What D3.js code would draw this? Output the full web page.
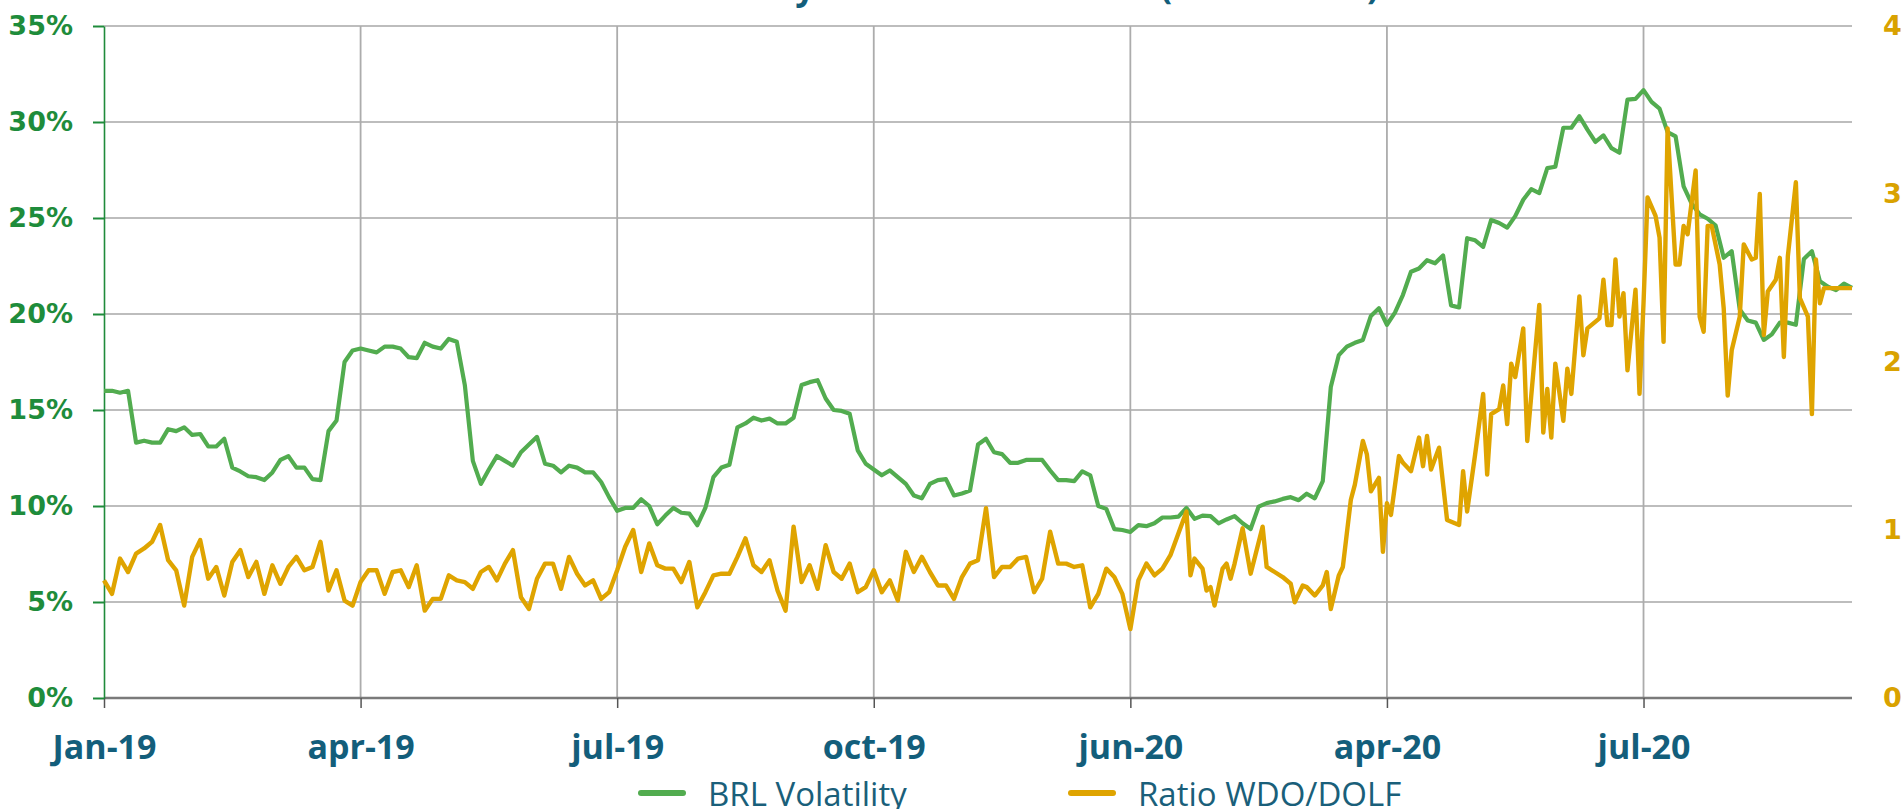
<!DOCTYPE html>
<html>
<head>
<meta charset="utf-8">
<script src="https://cdn.jsdelivr.net/npm/d3@7"></script>
<style>
  html, body { margin: 0; padding: 0; background: #fff; overflow: hidden; }
  svg { display: block; }
</style>
</head>
<body>
<svg id="chart" width="1901" height="809"></svg>
<script>
// trading-day index, one unit ~ one business day from Jan-19
const tickDays   = [0, 64, 128, 192, 256, 320, 384];
const tickLabels = ["Jan-19", "apr-19", "jul-19", "oct-19", "jun-20", "apr-20", "jul-20"];
const volTicks   = [0, 5, 10, 15, 20, 25, 30, 35];
const ratioTicks = [0, 1, 2, 3, 4];

// BRL Volatility (%), every second day
const volDays = d3.range(0, 437, 2);
const volValues = [
  16.0, 16.0, 15.9, 16.0, 13.3, 13.4, 13.3, 13.3, 14.0, 13.9,
  14.1, 13.7, 13.75, 13.1, 13.1, 13.5, 12.0, 11.8, 11.55, 11.5,
  11.35, 11.75, 12.4, 12.6, 12.0, 12.0, 11.4, 11.35, 13.9, 14.45,
  17.5, 18.1, 18.2, 18.1, 18.0, 18.3, 18.3, 18.2, 17.75, 17.7,
  18.5, 18.3, 18.2, 18.7, 18.55, 16.3, 12.35, 11.15, 11.9, 12.6,
  12.35, 12.1, 12.8, 13.2, 13.6, 12.2, 12.1, 11.75, 12.1, 12.0,
  11.75, 11.75, 11.25, 10.45, 9.75, 9.9, 9.9, 10.35, 10.0, 9.05,
  9.5, 9.9, 9.65, 9.6, 9.0, 9.9, 11.5, 12.0, 12.15, 14.1,
  14.3, 14.6, 14.45, 14.55, 14.3, 14.3, 14.6, 16.3, 16.45, 16.55,
  15.6, 15.0, 14.95, 14.8, 12.9, 12.2, 11.9, 11.6, 11.85, 11.5,
  11.15, 10.55, 10.4, 11.15, 11.35, 11.4, 10.55, 10.65, 10.8, 13.2,
  13.5, 12.8, 12.7, 12.25, 12.25, 12.4, 12.4, 12.4, 11.85, 11.35,
  11.35, 11.3, 11.8, 11.6, 10.0, 9.85, 8.8, 8.75, 8.65, 9.0,
  8.95, 9.1, 9.4, 9.4, 9.45, 9.9, 9.33, 9.5, 9.47, 9.1,
  9.3, 9.47, 9.1, 8.8, 9.97, 10.15, 10.24, 10.37, 10.46, 10.3,
  10.64, 10.4, 11.3, 16.2, 17.86, 18.3, 18.5, 18.65, 19.9, 20.3,
  19.44, 20.07, 21.0, 22.2, 22.37, 22.8, 22.64, 23.05, 20.45, 20.34,
  23.95, 23.84, 23.5, 24.9, 24.74, 24.5, 25.1, 25.95, 26.5, 26.3,
  27.6, 27.67, 29.7, 29.7, 30.3, 29.6, 28.96, 29.3, 28.64, 28.4,
  31.17, 31.2, 31.66, 31.05, 30.7, 29.47, 29.25, 26.65, 25.75, 25.19,
  24.96, 24.6, 22.93, 23.27, 20.23, 19.66, 19.55, 18.65, 18.94, 19.55,
  19.55, 19.44, 22.87, 23.27, 21.7, 21.42, 21.24, 21.58, 21.36
];

// Ratio WDO/DOLF, every second day up to day 270, then daily where it gets noisy
const ratioDaysEarly = d3.range(0, 271, 2);
const ratioDaysLate = [
  271, 272, 274, 275, 276, 277, 279, 280, 281, 282, 284, 286, 289, 290, 292,
  294, 296, 297, 299, 300, 302, 304, 305, 306, 308, 309, 310, 311, 312, 314,
  315, 316, 318, 319, 320, 321, 323, 324, 326, 327, 328, 329, 330, 331, 333,
  335, 338, 339, 340, 342, 344, 345, 346, 348, 349, 350, 351, 352, 354, 355,
  358, 359, 360, 361, 362, 364, 365, 366, 368, 369, 370, 373, 374, 375, 376,
  377, 378, 379, 380, 382, 383, 384, 385, 387, 388, 389, 390, 392, 393, 394,
  395, 397, 398, 399, 400, 401, 403, 404, 405, 406, 408, 409, 411, 412, 413,
  414, 415, 417, 418, 419, 420, 422, 423, 425, 426, 427, 428, 429, 436
];
const ratioDays = ratioDaysEarly.concat(ratioDaysLate);
const ratioValues = [
  0.70, 0.62, 0.83, 0.75, 0.86, 0.89, 0.93, 1.03, 0.82, 0.76,
  0.55, 0.84, 0.94, 0.71, 0.78, 0.61, 0.81, 0.88, 0.72, 0.81,
  0.62, 0.79, 0.68, 0.78, 0.84, 0.76, 0.78, 0.93, 0.64, 0.76,
  0.58, 0.55, 0.69, 0.76, 0.76, 0.62, 0.75, 0.76, 0.66, 0.79,
  0.52, 0.59, 0.59, 0.73, 0.70, 0.69, 0.65, 0.75, 0.78, 0.70,
  0.80, 0.88, 0.60, 0.53, 0.71, 0.80, 0.80, 0.65, 0.84, 0.74,
  0.67, 0.70, 0.59, 0.63, 0.76, 0.90, 1.00, 0.75, 0.92, 0.79,
  0.77, 0.77, 0.69, 0.81, 0.54, 0.63, 0.73, 0.74, 0.74, 0.84,
  0.95, 0.79, 0.75, 0.82, 0.64, 0.52, 1.02, 0.69, 0.79, 0.65,
  0.91, 0.75, 0.71, 0.80, 0.63, 0.66, 0.76, 0.63, 0.70, 0.58,
  0.87, 0.75, 0.84, 0.75, 0.67, 0.67, 0.59, 0.72, 0.80, 0.82,
  1.13, 0.72, 0.78, 0.78, 0.83, 0.84, 0.63, 0.71, 0.99, 0.80,
  0.80, 0.78, 0.79, 0.54, 0.62, 0.77, 0.72, 0.62, 0.41, 0.70,
  0.80, 0.73, 0.77, 0.85, 0.98, 1.11,
  // late part
  0.73, 0.83, 0.77, 0.64, 0.66, 0.55, 0.77, 0.80, 0.71, 0.80, 1.01, 0.74, 1.02, 0.78, 0.75,
  0.72, 0.68, 0.57, 0.67, 0.66, 0.61, 0.67, 0.75, 0.53, 0.73, 0.78, 0.98, 1.18, 1.27, 1.53,
  1.45, 1.23, 1.31, 0.87, 1.16, 1.09, 1.44, 1.40, 1.35, 1.45, 1.55, 1.38, 1.56, 1.36, 1.49,
  1.06, 1.03, 1.35, 1.11, 1.45, 1.81, 1.33, 1.69, 1.72, 1.86, 1.63, 1.99, 1.91, 2.20, 1.53,
  2.34, 1.58, 1.84, 1.55, 1.99, 1.65, 1.96, 1.81, 2.39, 2.04, 2.20, 2.26, 2.49, 2.22, 2.22,
  2.61, 2.27, 2.41, 1.95, 2.43, 1.81, 2.35, 2.98, 2.87, 2.74, 2.12, 3.39, 2.58, 2.58, 2.81,
  2.76, 3.14, 2.27, 2.18, 2.81, 2.81, 2.58, 2.32, 1.80, 2.07, 2.27, 2.70, 2.61, 2.62, 3.00,
  2.16, 2.42, 2.49, 2.62, 2.03, 2.63, 3.07, 2.38, 2.27, 1.69, 2.61, 2.35, 2.44, 2.44
];

const GREEN = "#52ac4f", GOLD = "#dfa400";
const TEAL = "#135e7b";

const svg = d3.select("#chart");
const plotL = 104, plotR = 1852, plotT = 26, plotB = 698;

const x  = d3.scaleLinear().domain([0, 436]).range([plotL, plotR]);
const yL = d3.scaleLinear().domain([0, 35]).range([plotB, plotT]);
const yR = d3.scaleLinear().domain([0, 4]).range([plotB, plotT]);

// title, mostly above the visible area
svg.append("text")
  .attr("x", 581).attr("y", -1)
  .attr("font-family", "Open Sans").attr("font-weight", 700).attr("font-size", 35)
  .attr("fill", TEAL)
  .text("BRL Volatility vs. Contracts Ratio (WDO/DOLF)");

// grid
svg.append("g")
  .selectAll("line")
  .data(volTicks.slice(1))
  .join("line")
  .attr("x1", plotL).attr("x2", plotR)
  .attr("y1", d => yL(d)).attr("y2", d => yL(d))
  .attr("stroke", "#bdbdbd").attr("stroke-width", 2);

svg.append("g")
  .selectAll("line")
  .data(tickDays.slice(1))
  .join("line")
  .attr("x1", d => x(d)).attr("x2", d => x(d))
  .attr("y1", plotT).attr("y2", plotB)
  .attr("stroke", "#acacac").attr("stroke-width", 1.8);

// x axis
const xAxis = svg.append("g")
  .attr("transform", `translate(0,${plotB})`)
  .call(d3.axisBottom(x).tickValues(tickDays).tickSize(10).tickSizeOuter(0)
    .tickFormat((d, i) => tickLabels[i]));
xAxis.select(".domain").attr("stroke", "#7a7a7a").attr("stroke-width", 2.5)
  .attr("d", `M${plotL},0H${plotR}`);
xAxis.selectAll(".tick line").attr("stroke", "#555").attr("stroke-width", 1.5);
xAxis.selectAll(".tick text")
  .attr("y", 61).attr("dy", 0)
  .attr("font-family", "Open Sans").attr("font-weight", 700).attr("font-size", 34)
  .attr("fill", TEAL);

// left axis
const yAxisL = svg.append("g")
  .attr("transform", `translate(${plotL},0)`)
  .call(d3.axisLeft(yL).tickValues(volTicks).tickSize(11).tickSizeOuter(0)
    .tickFormat(d => d + "%"));
yAxisL.select(".domain").attr("stroke", "#1f8b3b").attr("stroke-width", 1.6);
yAxisL.selectAll(".tick line").attr("stroke", "#1f8b3b").attr("stroke-width", 2);
yAxisL.selectAll(".tick text")
  .attr("x", -31)
  .attr("font-family", "DejaVu Sans").attr("font-weight", 700).attr("font-size", 27)
  .attr("fill", "#1e8c3b");

// right axis, labels only
const yAxisR = svg.append("g")
  .attr("transform", `translate(${plotR},0)`)
  .call(d3.axisRight(yR).tickValues(ratioTicks).tickSize(0).tickSizeOuter(0)
    .tickFormat(d3.format("d")));
yAxisR.select(".domain").remove();
yAxisR.selectAll(".tick text")
  .attr("x", 31)
  .attr("font-family", "DejaVu Sans").attr("font-weight", 700).attr("font-size", 27)
  .attr("fill", "#d9a200");

// series
const volLine = d3.line()
  .x((d, i) => x(volDays[i]))
  .y(d => yL(d));

const ratioLine = d3.line()
  .x((d, i) => x(ratioDays[i]))
  .y(d => yR(d));

svg.append("path")
  .datum(volValues)
  .attr("d", volLine)
  .attr("fill", "none")
  .attr("stroke", GREEN)
  .attr("stroke-width", 4.2)
  .attr("stroke-linejoin", "round");

svg.append("path")
  .datum(ratioValues)
  .attr("d", ratioLine)
  .attr("fill", "none")
  .attr("stroke", GOLD)
  .attr("stroke-width", 4.4)
  .attr("stroke-linejoin", "round");

// legend
const legendItems = [
  { label: "BRL Volatility", color: GREEN, x: 641 },
  { label: "Ratio WDO/DOLF", color: GOLD, x: 1071 }
];
const lg = svg.append("g")
  .selectAll("g")
  .data(legendItems)
  .join("g")
  .attr("transform", d => `translate(${d.x},793)`);

lg.append("line")
  .attr("x1", 0).attr("x2", 42)
  .attr("stroke", d => d.color)
  .attr("stroke-width", 6)
  .attr("stroke-linecap", "round");

lg.append("text")
  .attr("x", 67).attr("y", 13)
  .attr("font-family", "Open Sans").attr("font-size", 33)
  .attr("fill", "#1a5f7a")
  .text(d => d.label);
</script>
</body>
</html>
